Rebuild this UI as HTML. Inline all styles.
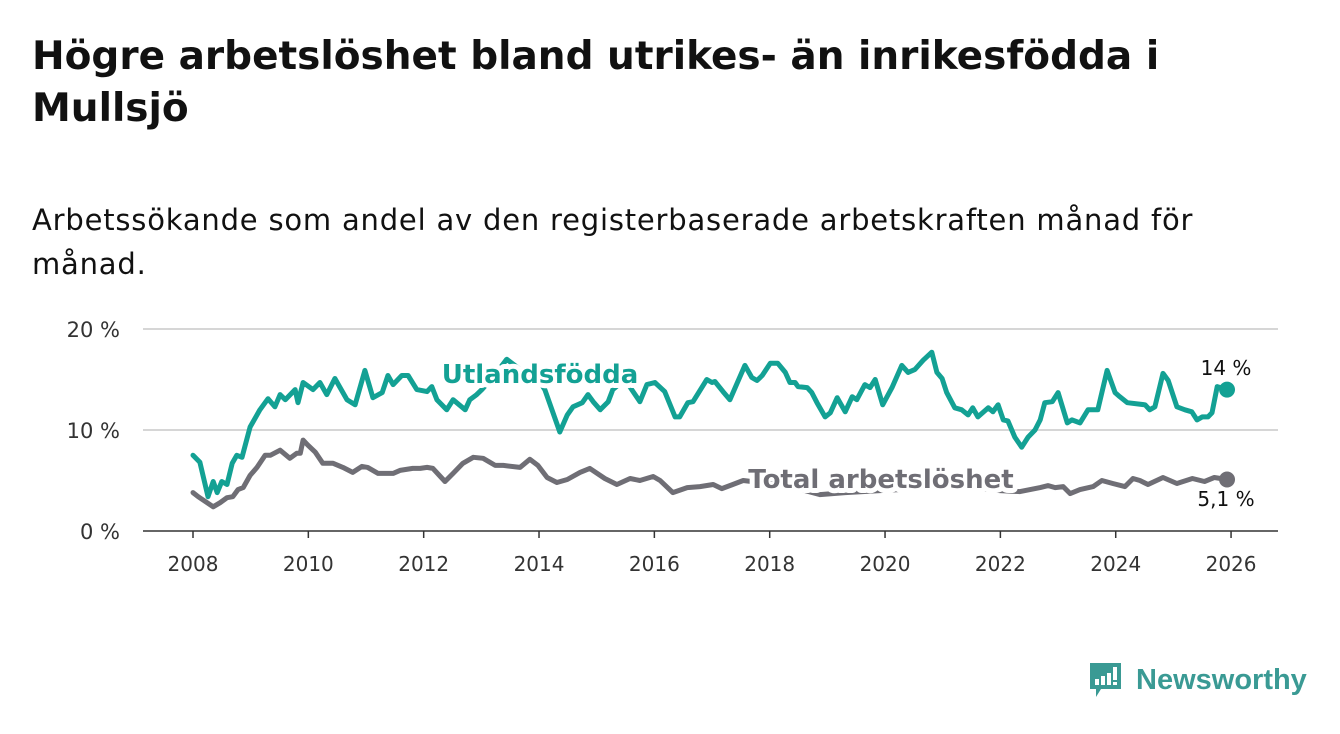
<!DOCTYPE html>
<html><head><meta charset="utf-8">
<style>
body{margin:0;background:#fff;width:1340px;height:734px;overflow:hidden;font-family:"DejaVu Sans","Liberation Sans",sans-serif;}
.t{position:absolute;left:32px;top:31px;font-size:39px;font-weight:bold;color:#111;line-height:52px;width:1300px;white-space:nowrap;}
.s{position:absolute;left:32px;top:198px;font-size:29px;color:#111;line-height:44px;width:1300px;white-space:nowrap;letter-spacing:0.8px;}
</style></head><body>
<div class="t">Högre arbetslöshet bland utrikes- än inrikesfödda i<br>Mullsjö</div>
<div class="s">Arbetssökande som andel av den registerbaserade arbetskraften månad för<br>månad.</div>
<svg id="c" width="1340" height="734" style="position:absolute;left:0;top:0"></svg>
<svg style="position:absolute;left:1088px;top:660px" width="230" height="46">
<path d="M2 3 h31 v26 h-20 l-5 8 v-8 h-6 z" fill="#3a9a94"/>
<rect x="7" y="19" width="4" height="6" fill="#fff"/><rect x="13" y="16" width="4" height="9" fill="#fff"/><rect x="19" y="13" width="4" height="12" fill="#fff"/><rect x="25" y="7" width="4" height="13" fill="#fff"/><rect x="25" y="22" width="4" height="3" fill="#fff"/>
<text x="48" y="29" font-size="29" font-weight="bold" fill="#3a9a94" font-family="Liberation Sans, sans-serif">Newsworthy</text>
</svg>
<script>
const yTicks=[0,10,20];
const yTickLabels=["0 %","10 %","20 %"];
const xTicks=[2008,2010,2012,2014,2016,2018,2020,2022,2024,2026];
const utlYears=[2008.0,2008.12,2008.26,2008.35,2008.42,2008.5,2008.59,2008.68,2008.76,2008.85,2008.99,2009.16,2009.3,2009.42,2009.51,2009.6,2009.77,2009.82,2009.91,2010.08,2010.2,2010.32,2010.46,2010.67,2010.81,2010.98,2011.12,2011.28,2011.38,2011.47,2011.62,2011.73,2011.88,2012.06,2012.14,2012.23,2012.4,2012.51,2012.72,2012.8,2012.92,2013.01,2013.24,2013.44,2013.67,2013.93,2014.1,2014.36,2014.49,2014.59,2014.75,2014.85,2014.94,2015.06,2015.2,2015.28,2015.49,2015.75,2015.87,2016.01,2016.18,2016.36,2016.44,2016.58,2016.67,2016.91,2017.0,2017.05,2017.19,2017.31,2017.57,2017.69,2017.78,2017.87,2018.01,2018.14,2018.27,2018.35,2018.44,2018.49,2018.65,2018.73,2018.82,2018.96,2019.05,2019.17,2019.31,2019.43,2019.51,2019.65,2019.74,2019.83,2019.96,2020.12,2020.29,2020.4,2020.52,2020.66,2020.81,2020.9,2020.99,2021.07,2021.21,2021.33,2021.44,2021.52,2021.61,2021.79,2021.87,2021.96,2022.05,2022.13,2022.25,2022.37,2022.48,2022.6,2022.69,2022.77,2022.9,2023.0,2023.16,2023.24,2023.38,2023.52,2023.69,2023.85,2023.99,2024.07,2024.2,2024.51,2024.59,2024.68,2024.82,2024.91,2025.06,2025.2,2025.32,2025.41,2025.5,2025.6,2025.67,2025.76,2025.93];
const utlValues=[7.5,6.8,3.4,4.9,3.8,4.9,4.6,6.7,7.5,7.3,10.3,12.0,13.1,12.3,13.5,13.0,14.0,12.7,14.7,14.0,14.7,13.5,15.1,13.0,12.5,15.9,13.2,13.7,15.4,14.5,15.4,15.4,14.0,13.8,14.3,13.0,12.0,13.0,12.0,13.0,13.5,14.0,15.5,17.0,16.0,15.5,14.0,9.8,11.5,12.3,12.7,13.5,12.8,12.0,12.8,14.0,15.0,12.8,14.5,14.7,13.8,11.3,11.3,12.7,12.8,15.0,14.7,14.8,13.8,13.0,16.4,15.2,14.9,15.4,16.6,16.6,15.7,14.7,14.7,14.3,14.2,13.7,12.7,11.3,11.7,13.2,11.8,13.3,13.0,14.5,14.2,15.0,12.5,14.2,16.4,15.7,16.0,16.9,17.7,15.7,15.1,13.7,12.2,12.0,11.5,12.2,11.3,12.2,11.8,12.5,11.0,10.9,9.3,8.3,9.3,10.0,11.0,12.7,12.8,13.7,10.7,11.0,10.7,12.0,12.0,15.9,13.7,13.3,12.7,12.5,12.0,12.3,15.6,14.9,12.3,12.0,11.8,11.0,11.3,11.3,11.7,14.3,14.0];
const totYears=[2008.0,2008.09,2008.35,2008.47,2008.59,2008.69,2008.78,2008.87,2008.99,2009.11,2009.25,2009.34,2009.51,2009.68,2009.8,2009.86,2009.91,2009.99,2010.12,2010.25,2010.43,2010.6,2010.77,2010.93,2011.03,2011.21,2011.47,2011.59,2011.81,2011.94,2012.06,2012.16,2012.37,2012.51,2012.68,2012.86,2013.03,2013.24,2013.38,2013.67,2013.84,2013.98,2014.14,2014.31,2014.49,2014.71,2014.88,2015.14,2015.35,2015.58,2015.75,2015.98,2016.1,2016.32,2016.57,2016.79,2017.02,2017.17,2017.36,2017.54,2017.83,2018.35,2018.87,2019.31,2019.91,2020.61,2021.3,2021.99,2022.34,2022.69,2022.83,2022.95,2023.09,2023.21,2023.38,2023.61,2023.76,2023.95,2024.16,2024.3,2024.42,2024.56,2024.82,2025.06,2025.33,2025.54,2025.71,2025.93];
const totValues=[3.8,3.4,2.4,2.8,3.3,3.4,4.1,4.3,5.5,6.3,7.5,7.5,8.0,7.2,7.7,7.7,9.0,8.5,7.8,6.7,6.7,6.3,5.8,6.4,6.3,5.7,5.7,6.0,6.2,6.2,6.3,6.2,4.9,5.7,6.7,7.3,7.2,6.5,6.5,6.3,7.1,6.5,5.3,4.8,5.1,5.8,6.2,5.2,4.6,5.2,5.0,5.4,5.0,3.8,4.3,4.4,4.6,4.2,4.6,5.0,4.8,4.4,3.6,3.8,4.0,4.2,4.4,4.0,3.9,4.3,4.5,4.3,4.4,3.7,4.1,4.4,5.0,4.7,4.4,5.2,5.0,4.6,5.3,4.7,5.2,4.9,5.3,5.1];

const svg=document.getElementById('c');
const NS='http://www.w3.org/2000/svg';
const X=y=>193+(y-2008)*57.67;
const Y=v=>531-v*10.1;
function mk(tag,attrs,parent){const e=document.createElementNS(NS,tag);for(const k in attrs)e.setAttribute(k,attrs[k]);(parent||svg).appendChild(e);return e;}
yTicks.forEach((t,i)=>{
  const g=mk('line',{x1:143,x2:1278,y1:Y(t),y2:Y(t),stroke:t===0?'#333':'#d6d6d6','stroke-width':t===0?1.5:2});
  
  
  const l=mk('text',{x:120,y:Y(t)+8,'text-anchor':'end','font-size':21,fill:'#333','font-family':'DejaVu Sans, sans-serif'});
  l.textContent=yTickLabels[i];
  
  
});
xTicks.forEach(t=>{
  const k=mk('line',{x1:X(t),x2:X(t),y1:531,y2:538,stroke:'#333','stroke-width':1.5});
  
  
  const l=mk('text',{x:X(t),y:571,'text-anchor':'middle','font-size':20,fill:'#333','font-family':'DejaVu Sans, sans-serif'});
  l.textContent=t;
  
  
});
function line(years,vals,color,name){
  const d=years.map((y,i)=>(i?'L':'M')+X(y).toFixed(1)+' '+Y(vals[i]).toFixed(1)).join(' ');
  const p=mk('path',{d:d,fill:'none',stroke:color,'stroke-width':5,'stroke-linejoin':'round','stroke-linecap':'round'});
  
  
  const n=years.length-1;
  const c=mk('circle',{cx:X(years[n]),cy:Y(vals[n]),r:8,fill:color});
  
  
}
line(totYears,totValues,'#6f6e75','total-line');
line(utlYears,utlValues,'#13a194','utlandsfodda-line');
function lab(txt,x,y,color,anchor,size,bold,halo,name){
  const t=mk('text',{x:x,y:y,'text-anchor':anchor,'font-size':size,'font-weight':bold?'bold':'normal',fill:color,'font-family':'DejaVu Sans, sans-serif'});
  if(halo){t.setAttribute('stroke','#fff');t.setAttribute('stroke-width',10);t.setAttribute('paint-order','stroke');t.setAttribute('stroke-linejoin','round');}
  t.textContent=txt;
  
  
}
lab('Utlandsfödda',540,383,'#13a194','middle',26,true,true,'utlandsfodda-label');
lab('Total arbetslöshet',881,488,'#6f6e75','middle',26,true,true,'total-label');
lab('14 %',1226,375,'#111','middle',20,false,false,'utlandsfodda-value');
lab('5,1 %',1226,506,'#111','middle',20,false,false,'total-value');
</script>
</body></html>
